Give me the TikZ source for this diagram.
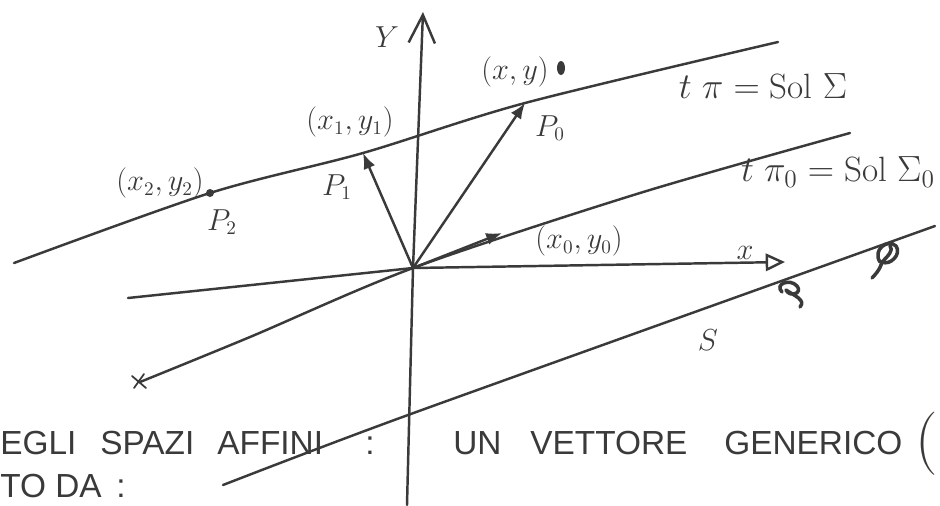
\documentclass[tikz,border=0pt]{standalone}
\usepackage{amsmath,amssymb}
\usepackage{fontspec}
\setsansfont{Liberation Sans}
\usepackage{xcolor}
\usepackage{tikz}
\usetikzlibrary{arrows.meta,positioning,calc}
\definecolor{ink}{HTML}{3A3A3A}

\begin{document}
\begin{tikzpicture}[
  x=0.02cm, y=-0.02cm,
  pen/.style={line width=1.4pt, draw=ink, line cap=round, line join=round},
  vec/.style={pen, -{Latex[length=9pt,width=7pt]}},
  lbl/.style={font=\fontsize{16}{19}\selectfont, text=ink, inner sep=1pt},
  eqn/.style={font=\fontsize{20}{24}\selectfont, text=ink, inner sep=1pt},
  note/.style={font=\sffamily\fontsize{19}{23}\selectfont, text=ink, inner sep=0pt, anchor=base west}
]
\useasboundingbox (0,0) rectangle (940,505);

\coordinate (O) at (413,268);
\coordinate (P2) at (210,193);
\coordinate (P1) at (363,153);
\coordinate (P0) at (525,103);
\coordinate (Q) at (502,233);
\coordinate (ybot) at (407,505);
\coordinate (ytop) at (423,12);
\coordinate (xleft) at (128,298);
\coordinate (xtip) at (785,262);
\coordinate (sleft) at (223,485);
\coordinate (smid) at (408,415);
\coordinate (sright) at (935,226);
\coordinate (pileft) at (14,263);
\coordinate (piright) at (778,42);
\coordinate (pizleft) at (140,382);
\coordinate (pizright) at (850,133);

\draw[pen, -{Straight Barb[length=16pt,width=15pt]}] (ybot) -- (O) -- (ytop);
\draw[pen] (xleft) -- (O);
\draw[pen, -{Triangle[open,length=11pt,width=10pt]}] (O) -- (xtip);

\draw[pen] plot[smooth, tension=0.5] coordinates {(pileft) (P2) (P1) (P0) (piright)};
\draw[pen] plot[smooth, tension=0.5] coordinates {(pizleft) (250,337) (O) (640,193) (pizright)};
\draw[pen] plot[smooth, tension=0.4] coordinates {(sleft) (smid) (sright)};

\draw[vec] (O) -- (P1);
\draw[vec] (O) -- (P0);
\draw[vec] (O) -- (Q);
\fill[ink] (P2) circle (4);
\fill[ink] (561,68) ellipse (4 and 7);
\draw[pen, line width=1pt] (132,376) -- (146,388) (134,388) -- (144,374);

\draw[pen, line width=2pt] (782,292) .. controls (774,284) and (790,278) .. (797,286)
  .. controls (803,293) and (790,298) .. (786,290) .. controls (795,296) and (806,300) .. (800,307);
\draw[pen, line width=2pt] (880,262) .. controls (872,250) and (888,238) .. (896,246)
  .. controls (902,254) and (890,266) .. (882,262) .. controls (888,256) and (894,250) .. (890,246)
  (882,262) .. controls (880,270) and (874,276) .. (872,278);

\node[lbl] (p2coord) at (160,183) {$(x_2,y_2)$};
\node[lbl] (p2name) at (222,222) {$P_2$};
\node[lbl] (p1coord) at (350,122) {$(x_1,y_1)$};
\node[lbl] (p1name) at (337,187) {$P_1$};
\node[lbl] (p0coord) at (515,72) {$(x,y)$};
\node[lbl] (p0name) at (550,128) {$P_0$};
\node[lbl] (qcoord) at (579,241) {$(x_0,y_0)$};
\node[lbl] (xlab) at (745,253) {$x$};
\node[lbl] (ylab) at (387,37) {$Y$};
\node[lbl] (slab) at (708,340) {$S$};
\node[eqn] (pieq) at (763,86) {$t\;\pi = \mathrm{Sol}\;\Sigma$};
\node[eqn] (pizeq) at (838,172) {$t\;\pi_0 = \mathrm{Sol}\;\Sigma_0$};

\node[note] (negli) at (0,454) {EGLI};
\node[note] (spazi) at (100,454) {SPAZI};
\node[note] (affini) at (217,454) {AFFINI};
\node[note] (colon1) at (365,454) {:};
\node[note] (dato) at (0,497) {TO DA};
\node[note] (colon2) at (116,497) {:};
\node[note] (un) at (453,454) {UN};
\node[note] (vettore) at (530,454) {VETTORE};
\node[note] (generico) at (724,454) {GENERICO};
\node[lbl, font=\fontsize{36}{36}\selectfont, anchor=east, inner sep=0pt] (paren) at (938,444) {(};
\end{tikzpicture}
\end{document}
